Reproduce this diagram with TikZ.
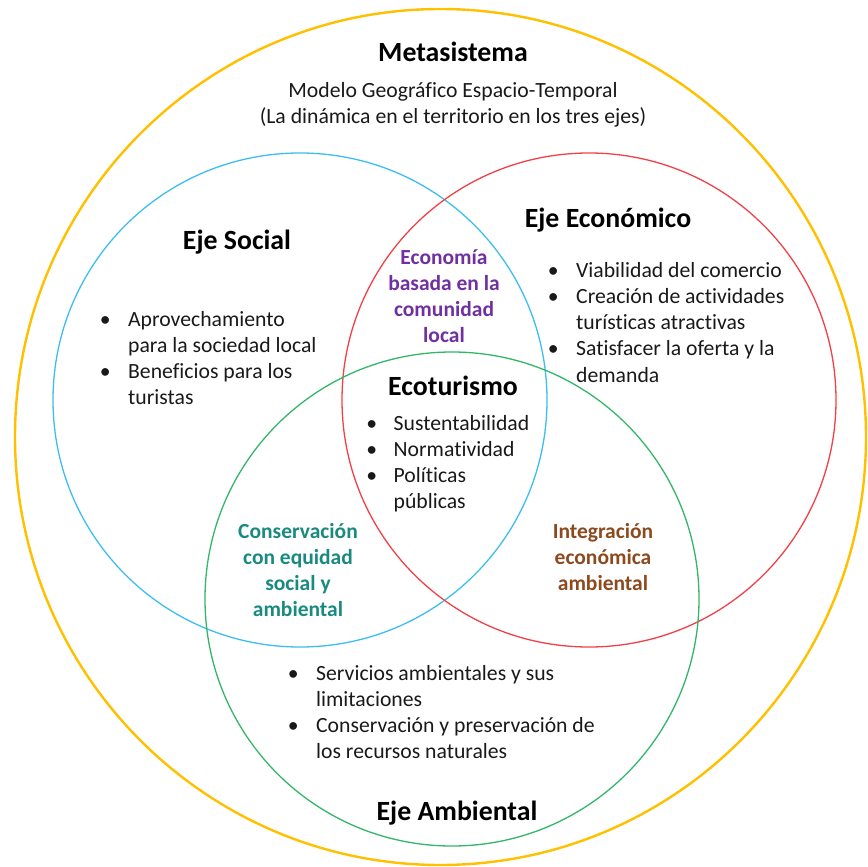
\documentclass[tikz,border=0pt]{standalone}
\usepackage{fontspec}
\setmainfont{Carlito}[RawFeature=-liga, RawFeature=-clig, RawFeature=-calt, RawFeature=-dlig]
\definecolor{cyel}{RGB}{255,192,0}
\definecolor{cblu}{RGB}{60,190,240}
\definecolor{cred}{RGB}{240,64,72}
\definecolor{cgrn}{RGB}{50,182,104}
\definecolor{cpur}{RGB}{112,48,160}
\definecolor{cteal}{RGB}{24,138,128}
\definecolor{cbrn}{RGB}{140,74,30}
\newcommand\blt{\makebox[12pt][c]{•}}
\tikzset{
  ring/.style={line width=1.3pt},
  head/.style={font=\fontsize{27.8}{33}\selectfont\bfseries, inner sep=0pt, anchor=base, text=black},
  sub/.style={font=\fontsize{21.7}{26}\selectfont, inner sep=0pt, anchor=base, text=black!90},
  blist/.style={font=\fontsize{21.7}{26.3}\selectfont, inner sep=0pt, anchor=base west, text=black!90},
  lab/.style={font=\fontsize{21.5}{26}\selectfont\bfseries, inner sep=0pt, anchor=base}
}
\begin{document}
\begin{tikzpicture}[x=1pt,y=-1pt]
\useasboundingbox (0,0) rectangle (868,867);
% circles
\draw[cyel, line width=2.4pt] (440.5,437) ellipse [x radius=425.5pt, y radius=428pt];
\draw[cblu, ring] (300,400) circle [radius=247pt];
\draw[cred, ring] (589,400) circle [radius=247pt];
\draw[cgrn, ring] (452,599) circle [radius=247pt];
% title
\node[head] (meta) at (453,62) {Metasistema};
\node[sub] (modelo) at (453,97) {\begin{tabular}[t]{@{}c@{}}Modelo Geográfico Espacio-Temporal\\(La dinámica en el territorio en los tres ejes)\end{tabular}};
% headings
\node[head] (social) at (237,249) {Eje Social};
\node[head] (econ) at (608,227) {Eje Económico};
\node[head] (ecot) at (453,395) {Ecoturismo};
\node[head] (amb) at (457,820) {Eje Ambiental};
% lists
\node[blist] (lsoc) at (99,326) {\begin{tabular}[t]{@{}l@{\hspace{17pt}}l@{}}
\blt & Aprovechamiento\\
 & para la sociedad local\\
\blt & Beneficios para los\\
 & turistas
\end{tabular}};
\node[blist] (lecon) at (547,277) {\begin{tabular}[t]{@{}l@{\hspace{17pt}}l@{}}
\blt & Viabilidad del comercio\\
\blt & Creación de actividades\\
 & turísticas atractivas\\
\blt & Satisfacer la oferta y la\\
 & demanda
\end{tabular}};
\node[blist] (lecot) at (365.5,430) {\begin{tabular}[t]{@{}l@{\hspace{16pt}}l@{}}
\blt & Sustentabilidad\\
\blt & Normatividad\\
\blt & Políticas\\
 & públicas
\end{tabular}};
\node[blist] (lamb) at (287,680) {\begin{tabular}[t]{@{}l@{\hspace{17pt}}l@{}}
\blt & Servicios ambientales y sus\\
 & limitaciones\\
\blt & Conservación y preservación de\\
 & los recursos naturales
\end{tabular}};
% intersection labels
\node[lab, text=cpur] (comun) at (444,264) {\begin{tabular}[t]{@{}c@{}}Economía\\basada en la\\comunidad\\local\end{tabular}};
\node[lab, text=cteal] (cons) at (298,538) {\begin{tabular}[t]{@{}c@{}}Conservación\\con equidad\\social y\\ambiental\end{tabular}};
\node[lab, text=cbrn] (integ) at (603,538) {\begin{tabular}[t]{@{}c@{}}Integración\\económica\\ambiental\end{tabular}};
\end{tikzpicture}
\end{document}
